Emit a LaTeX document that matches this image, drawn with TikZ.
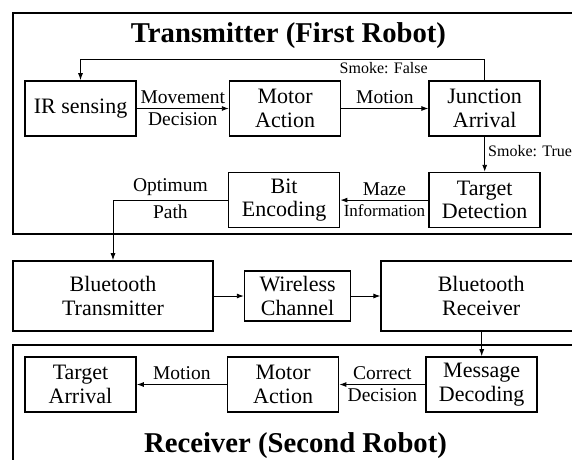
\documentclass[tikz,border=0pt]{standalone}
\usepackage{fontspec}
\setmainfont{Liberation Serif}
\usetikzlibrary{arrows.meta, positioning}

\begin{document}
\begin{tikzpicture}[
  x=1pt, y=-1pt, line width=0.9pt,
  >={Latex[length=7pt,width=5pt]},
  block/.style      = {draw, line width=1.6pt, minimum width=111pt, minimum height=55pt,
                       align=center, inner sep=2pt, font=\fontsize{22}{23.5}\selectfont},
  robotframe/.style = {draw, line width=2pt},
  lbl/.style        = {font=\fontsize{19.5}{21}\selectfont, inner sep=4pt},
  smoke/.style      = {font=\fontsize{16}{18}\selectfont, inner sep=3pt},
  heading/.style    = {font=\fontsize{28.7}{31}\selectfont\bfseries, anchor=base},
]
  \useasboundingbox (0,0) rectangle (572,459);
  \fill[white] (0,0) rectangle (572,459);
  \clip (0,0) rectangle (572,459);

  \draw[robotframe] (13,13)  rectangle (600,234);
  \draw[robotframe] (13,345) rectangle (600,480);

  \node[heading] (ttx) at (288.5,42)  {Transmitter (First Robot)};
  \node[heading] (trx) at (295.5,452) {Receiver (Second Robot)};

  % first robot
  \node[block] (ir)   at (80.5,108.5)            {IR sensing};
  \node[block, right=92pt of ir]    (mot1)     {Motor\\Action};
  \node[block, right=87pt of mot1]  (junc)     {Junction\\Arrival};
  \node[block, below=35pt of junc]  (tgt)      {Target\\Detection};
  \node[block, left=88pt of tgt]    (bit)      {Bit\\Encoding};

  % link
  \node[block, minimum width=200pt, minimum height=70pt] (btt) at (113,296) {Bluetooth\\Transmitter};
  \node[block, right=30pt of btt, minimum width=106pt, minimum height=50pt] (wc) {Wireless\\Channel};
  \node[block, right=29pt of wc, minimum width=200pt, minimum height=70pt]  (btr) {Bluetooth\\Receiver};

  % second robot
  \node[block] (ta)   at (80.5,384.5)            {Target\\Arrival};
  \node[block, right=90pt of ta]    (mot2)     {Motor\\Action};
  \node[block, right=86pt of mot2]  (md)       {Message\\Decoding};

  \draw[->] (ir)   -- node[lbl, above]{Movement} node[lbl, below]{Decision} (mot1);
  \draw[->] (mot1) -- node[lbl, above]{Motion} (junc);
  \draw[->] (junc) -- node[smoke, right, pos=0.4]{Smoke: True} (tgt);
  \draw[->] (junc.north) -- ++(0,-21) -| node[smoke, below, pos=0.125]{Smoke: False} (ir.north);
  \draw[->] (tgt)  -- node[lbl, above]{Maze}
                      node[lbl, below, font=\fontsize{17}{19}\selectfont]{Information} (bit);
  \draw[->] (bit)  -| node[lbl, above, pos=0.25]{Optimum} node[lbl, below, pos=0.25]{Path} (btt);

  \draw[->] (btt) -- (wc);
  \draw[->] (wc)  -- (btr);
  \draw[->] (btr.south -| md) -- (md);

  \draw[->] (md)   -- node[lbl, above]{Correct} node[lbl, below]{Decision} (mot2);
  \draw[->] (mot2) -- node[lbl, above]{Motion} (ta);
\end{tikzpicture}
\end{document}
